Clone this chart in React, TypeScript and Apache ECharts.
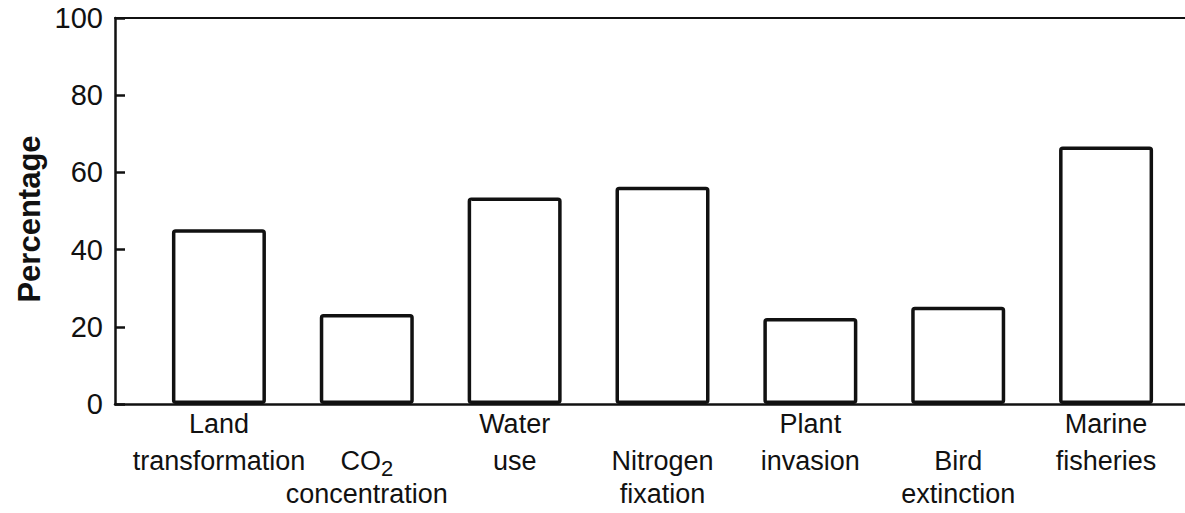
import React, { useEffect, useRef } from "react";
import * as echarts from "echarts";

const categories = [
  "Land transformation",
  "CO2 concentration",
  "Water use",
  "Nitrogen fixation",
  "Plant invasion",
  "Bird extinction",
  "Marine fisheries",
];
const values = [45.3, 23.3, 53.5, 56.3, 22.3, 25.2, 66.7];
const labelLines: string[][] = [
  ["Land", "transformation"],
  ["CO|2", "concentration"],
  ["Water", "use"],
  ["Nitrogen", "fixation"],
  ["Plant", "invasion"],
  ["Bird", "extinction"],
  ["Marine", "fisheries"],
];
const yMin = 0;
const yMax = 100;
const yStep = 20;
const yTitle = "Percentage";

const FONT = '"Liberation Sans", Arial, Helvetica, sans-serif';
const INK = "#111";

export default function App() {
  const ref = useRef<HTMLDivElement>(null);
  useEffect(() => {
    if (!ref.current) return;
    const chart = echarts.init(ref.current, undefined, { renderer: "svg" });
    const fmtLine = (s: string, cls: string) => {
      if (s.includes("|")) {
        const [a, b] = s.split("|");
        return `{${cls}|${a}}{sub|${b}}`;
      }
      return `{${cls}|${s}}`;
    };
    chart.setOption({
      animation: false,
      backgroundColor: "#fff",
      grid: [
        { left: 115, right: 0, top: 18, bottom: 109, containLabel: false },
        { left: 145, right: 5, top: 18, bottom: 109, containLabel: false },
      ],
      xAxis: [
        {
          gridIndex: 0,
          type: "value",
          position: "bottom",
          min: 0,
          max: 1,
          axisLine: { show: true, onZero: false, lineStyle: { color: INK, width: 2.5 } },
          axisTick: { show: false },
          axisLabel: { show: false },
          splitLine: { show: false },
        },
        {
          gridIndex: 0,
          type: "value",
          position: "top",
          min: 0,
          max: 1,
          axisLine: { show: true, onZero: false, lineStyle: { color: INK, width: 2 } },
          axisTick: { show: false },
          axisLabel: { show: false },
          splitLine: { show: false },
        },
        {
          gridIndex: 1,
          type: "category",
          data: categories,
          axisLine: { show: false },
          axisTick: { show: false },
          splitLine: { show: false },
          axisLabel: {
            show: true,
            interval: 0,
            margin: 1,
            color: INK,
            fontFamily: FONT,
            fontSize: 27,
            formatter: (_v: string, idx: number) => {
              const lines = labelLines[idx];
              if (idx % 2 === 1) {
                return ["{sp| }", fmtLine(lines[0], "t"), fmtLine(lines[1], "c")].join("\n");
              }
              return [fmtLine(lines[0], "t"), fmtLine(lines[1], "t")].join("\n");
            },
            rich: {
              sp: { fontSize: 27, lineHeight: 37, fontFamily: FONT, color: INK },
              t: { fontSize: 27, lineHeight: 37, fontFamily: FONT, color: INK },
              c: { fontSize: 27, lineHeight: 30, fontFamily: FONT, color: INK },
              sub: {
                fontSize: 22,
                lineHeight: 22,
                verticalAlign: "bottom",
                fontFamily: FONT,
                color: INK,
              },
            },
          },
        },
      ],
      yAxis: [
        {
          gridIndex: 0,
          type: "value",
          min: yMin,
          max: yMax,
          interval: yStep,
          axisLine: { show: true, lineStyle: { color: INK, width: 2.5 } },
          axisTick: { show: true, inside: true, length: 10, lineStyle: { color: INK, width: 2.5 } },
          axisLabel: {
            show: true,
            margin: 12,
            color: INK,
            fontFamily: FONT,
            fontSize: 29,
          },
          splitLine: { show: false },
        },
        {
          gridIndex: 1,
          type: "value",
          min: yMin,
          max: yMax,
          interval: yStep,
          show: false,
          splitLine: { show: false },
        },
      ],
      graphic: [
        {
          type: "text",
          x: 29,
          y: 219,
          rotation: Math.PI / 2,
          style: {
            text: yTitle,
            fontFamily: FONT,
            fontSize: 31,
            fontWeight: "bold",
            fill: INK,
            align: "center",
            verticalAlign: "middle",
          },
        },
      ],
      series: [
        {
          type: "bar",
          xAxisIndex: 2,
          yAxisIndex: 1,
          data: values,
          barWidth: 94,
          itemStyle: {
            color: "#fff",
            borderColor: INK,
            borderWidth: 3.5,
            borderRadius: 2,
          },
          emphasis: { disabled: true },
        },
      ],
    });
    return () => chart.dispose();
  }, []);
  return (
    <div
      ref={ref}
      style={{ position: "fixed", left: 0, top: 0, width: 1185, height: 513, background: "#fff" }}
    />
  );
}
